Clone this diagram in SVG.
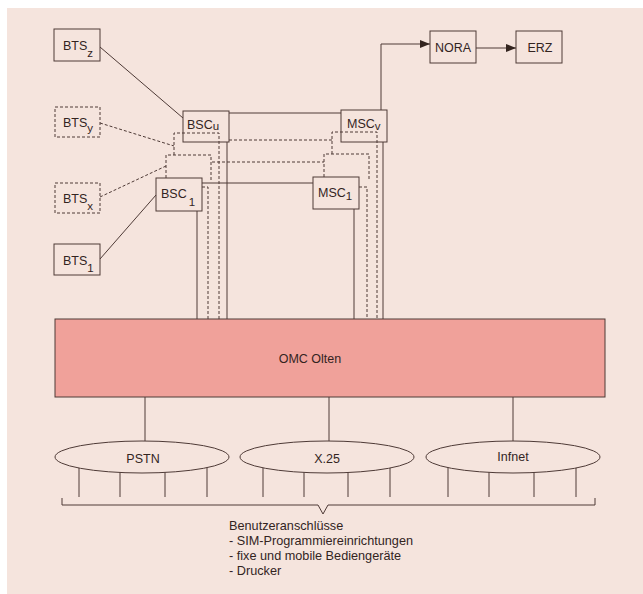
<svg xmlns="http://www.w3.org/2000/svg" width="643" height="594" viewBox="0 0 643 594">
<defs>
<style>
.bx{fill:none;stroke:#4e3a36;stroke-width:1}
.dbx{fill:none;stroke:#4e3a36;stroke-width:1;stroke-dasharray:3,2}
.ln{fill:none;stroke:#4e3a36;stroke-width:1}
.dl{fill:none;stroke:#4e3a36;stroke-width:1;stroke-dasharray:3,2}
.t{font-family:"Liberation Sans",Arial,sans-serif;font-size:12.5px;fill:#33241f}
.s{font-size:11.5px}
.lg{font-size:12.7px}
.el{fill:#f5e4dd;stroke:#4e3a36;stroke-width:1}
</style>
<marker id="ah" markerUnits="userSpaceOnUse" markerWidth="10" markerHeight="8" refX="10" refY="4" orient="auto">
<path d="M0,0 L10,4 L0,8 z" fill="#33241f"/>
</marker>
</defs>
<rect x="0" y="0" width="643" height="594" fill="#ffffff"/>
<rect x="7" y="8" width="636" height="586" fill="#f5e4dd"/>

<g id="connectors">
<path class="ln" d="M100,47 L183,118"/>
<path class="dl" d="M100,123 L174,146"/>
<path class="dl" d="M100,197 L166,166"/>
<path class="ln" d="M100,259 L156,195"/>
<path class="ln" d="M229,113 H341"/>
<path class="dl" d="M229,140 H332"/>
<path class="dl" d="M212,162 H324"/>
<path class="ln" d="M202,183 H313"/>
<path class="ln" d="M197,211 V319"/>
<path class="dl" d="M202,187 H208 V319"/>
<path class="dl" d="M174,155 V133 H219 V319"/>
<path class="dl" d="M166,178 V155 H211 V180"/>
<path class="ln" d="M227,142 V319"/>
<path class="ln" d="M354,209 V319"/>
<path class="dl" d="M359,187 H367 V319"/>
<path class="dl" d="M332,154 V132 H377 V319"/>
<path class="dl" d="M324,177 V154 H369 V180"/>
<path class="ln" d="M383,142 V319"/>
<path class="ln" d="M381,110 V44 H430" marker-end="url(#ah)"/>
<path class="ln" d="M476,48 H516" marker-end="url(#ah)"/>
<path class="ln" d="M145,397 V441"/>
<path class="ln" d="M329,397 V441"/>
<path class="ln" d="M513,397 V441"/>
<path class="ln" d="M79,457 V497 M120,457 V497 M165,457 V497 M207,457 V497 M263,457 V497 M304,457 V497 M348,457 V497 M390,457 V497 M448,457 V497 M489,457 V497 M534,457 V497 M576,457 V497"/>
<path class="ln" d="M62,498 V505 H318 L323,514 L328,505 H595 V498"/>
</g>

<g id="bts_z"><rect class="bx" x="54" y="29" width="46" height="32"/><text class="t" x="63" y="50">BTS<tspan class="s" dy="7">z</tspan></text></g>
<g id="bts_y"><rect class="dbx" x="55" y="107" width="45" height="30"/><text class="t" x="63" y="127">BTS<tspan class="s" dy="5">y</tspan></text></g>
<g id="bts_x"><rect class="dbx" x="55" y="183" width="45" height="30"/><text class="t" x="63" y="203">BTS<tspan class="s" dy="7">x</tspan></text></g>
<g id="bts_1"><rect class="bx" x="54" y="244" width="46" height="31"/><text class="t" x="63" y="265">BTS<tspan class="s" dy="7">1</tspan></text></g>
<g id="bsc_u"><rect class="bx" x="183" y="111" width="46" height="31"/><text class="t" x="187" y="129">BSC<tspan class="s" dy="1">u</tspan></text></g>
<g id="bsc_1"><rect class="bx" x="156" y="178" width="46" height="33"/><text class="t" x="161" y="198">BSC<tspan class="s" dx="2" dy="8">1</tspan></text></g>
<g id="msc_v"><rect class="bx" x="341" y="110" width="46" height="32"/><text class="t" x="347" y="128">MSC<tspan class="s" dy="2">v</tspan></text></g>
<g id="msc_1"><rect class="bx" x="313" y="177" width="46" height="32"/><text class="t" x="318" y="197">MSC<tspan class="s" dy="3">1</tspan></text></g>
<g id="nora"><rect class="bx" x="430" y="31" width="46" height="32"/><text class="t" x="453" y="52" text-anchor="middle">NORA</text></g>
<g id="erz"><rect class="bx" x="516" y="31" width="46" height="32"/><text class="t" x="540" y="52" text-anchor="middle">ERZ</text></g>
<g id="omc"><rect x="55" y="319" width="550" height="78" fill="#f0a19a" stroke="#4e3a36" stroke-width="1"/><text class="t" x="310" y="363" text-anchor="middle">OMC Olten</text></g>
<g id="pstn"><ellipse class="el" cx="142" cy="457" rx="87" ry="16"/><text class="t" x="143" y="463" text-anchor="middle">PSTN</text></g>
<g id="x25"><ellipse class="el" cx="327" cy="457" rx="87" ry="16"/><text class="t" x="327" y="463" text-anchor="middle">X.25</text></g>
<g id="infnet"><ellipse class="el" cx="513" cy="457" rx="87" ry="16"/><text class="t" x="513" y="461" text-anchor="middle">Infnet</text></g>
<g id="legend"><text class="t lg" x="229" y="530">Benutzeranschlüsse</text>
<text class="t lg" x="229" y="545">- SIM-Programmiereinrichtungen</text>
<text class="t lg" x="229" y="560">- fixe und mobile Bediengeräte</text>
<text class="t lg" x="229" y="575">- Drucker</text></g>
</svg>
